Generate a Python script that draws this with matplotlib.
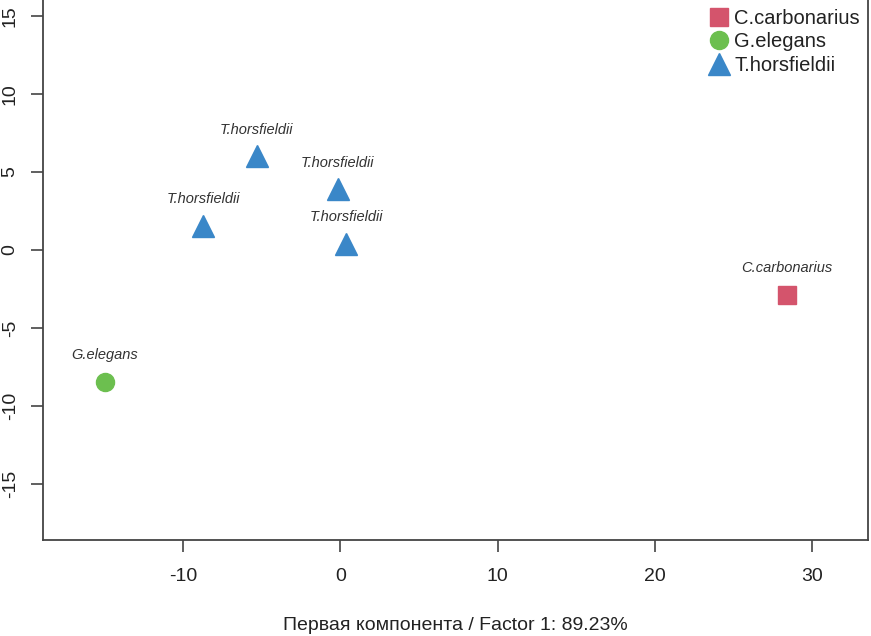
import matplotlib
matplotlib.use("Agg")
import matplotlib.pyplot as plt

# Data
species = ["C.carbonarius", "G.elegans", "T.horsfieldii"]
colors = ["#D4546C", "#6CBF4F", "#3A87C8"]
markers = ["s", "o", "^"]
msizes = [13, 13, 16]

pt_species = ["C.carbonarius", "G.elegans", "T.horsfieldii", "T.horsfieldii", "T.horsfieldii", "T.horsfieldii"]
pt_x = [28.4, -14.95, -5.3, -8.73, -0.15, 0.36]
pt_y = [-2.88, -8.45, 6.0, 1.54, 3.9, 0.4]

xticks = [-10, 0, 10, 20, 30]
yticks = [-15, -10, -5, 0, 5, 10, 15]
xlabel = "Первая компонента / Factor 1: 89.23%"

W, H = 871, 636
fig = plt.figure(figsize=(W / 100, H / 100), dpi=100)
left, right, bottom, top = 43, 868, 540, -2
ax = fig.add_axes([left / W, 1 - bottom / H, (right - left) / W, (bottom - top) / H])

for sp, c, m, ms in zip(species, colors, markers, msizes):
    xs = [x for x, s in zip(pt_x, pt_species) if s == sp]
    ys = [y for y, s in zip(pt_y, pt_species) if s == sp]
    ax.plot(xs, ys, linestyle="none", marker=m, markersize=ms, color=c, label=sp)

for x, y, s in zip(pt_x, pt_y, pt_species):
    ax.annotate(s, (x, y), xytext=(0, 14), textcoords="offset points", ha="center", va="bottom",
                fontsize=10.5, style="italic", color="#333333", family="Liberation Sans")

ax.set_xlim(-18.9, 33.55)
ax.set_ylim(-18.6, 16.15)
ax.set_xticks(xticks)
ax.set_yticks(yticks)
ax.set_xticklabels([str(t) for t in xticks], fontsize=14, family="Liberation Sans", color="#222222")
ax.set_yticklabels([str(t) for t in yticks], fontsize=14, family="Liberation Sans", rotation=90, va="center", color="#222222")
ax.tick_params(axis="both", length=8.5, width=1.2, color="#444444")
ax.tick_params(axis="x", pad=12)
ax.tick_params(axis="y", pad=9)
for sp in ax.spines.values():
    sp.set_color("#444444")
    sp.set_linewidth(1.3)

ax.set_xlabel(xlabel, fontsize=14, family="Liberation Sans", color="#222222", labelpad=23)

leg = ax.legend(loc="upper right", frameon=False, prop={"family": "Liberation Sans", "size": 14.5},
                handletextpad=0.15, borderaxespad=0.0, labelspacing=0.22, handlelength=1.2,
                bbox_to_anchor=(1.0, 0.995))
for t in leg.get_texts():
    t.set_color("#222222")

fig.savefig("out.png", dpi=100)
